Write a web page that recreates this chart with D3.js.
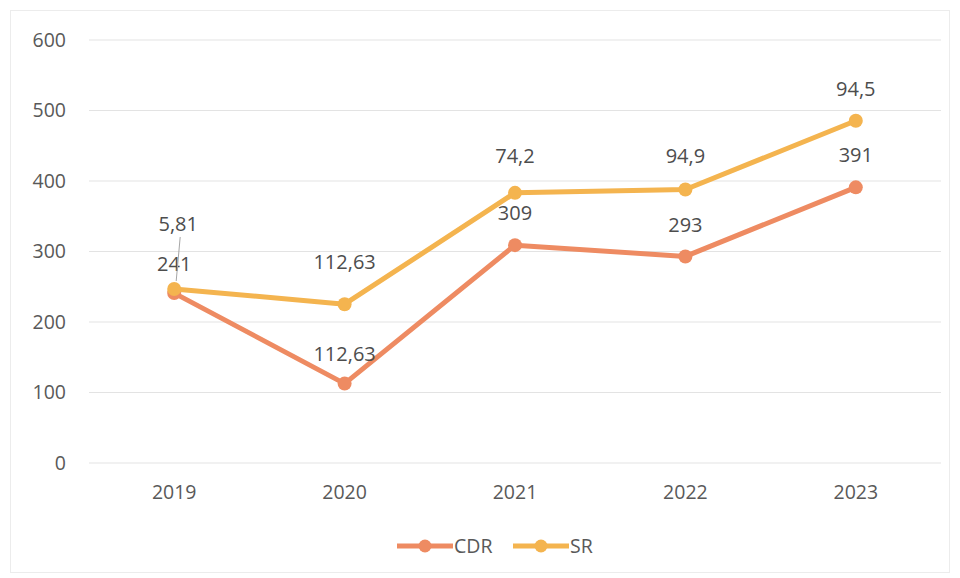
<!DOCTYPE html>
<html><head><meta charset="utf-8">
<script src="https://cdn.jsdelivr.net/npm/d3@7"></script>
<style>
body{margin:0;background:#fff;}
svg{display:block;font-family:"Open Sans","Noto Sans",sans-serif;}
</style></head>
<body><svg id="c" width="960" height="578"></svg>
<script>
const years = ["2019","2020","2021","2022","2023"];
const cdr = [241, 112.63, 309, 293, 391];
const srIncrement = [5.81, 112.63, 74.2, 94.9, 94.5];
const cdrLabels = ["241","112,63","309","293","391"];
const srLabels = ["5,81","112,63","74,2","94,9","94,5"];
const yTicks = [0,100,200,300,400,500,600];
const seriesNames = ["CDR","SR"];

const svg = d3.select("#c");
const colors = {CDR:"#ee8b62", SR:"#f4b44f"};
svg.append("rect").attr("x",10.5).attr("y",10.5).attr("width",939).attr("height",562)
  .attr("fill","#fff").attr("stroke","#ececec");

const x = d3.scaleBand().domain(years).range([89,941]);
const y = d3.scaleLinear().domain([0,600]).range([463,40]);
const srTotal = cdr.map((v,i)=>v+srIncrement[i]);

// grid
svg.append("g").selectAll("line").data(yTicks).join("line")
  .attr("x1",89).attr("x2",941).attr("y1",d=>y(d)).attr("y2",d=>y(d))
  .attr("stroke","#e3e3e3").attr("stroke-width",1);

// y axis labels
const yAxis = d3.axisLeft(y).tickValues(yTicks).tickSize(0).tickPadding(0);
const gy = svg.append("g").attr("transform","translate(66,0)").call(yAxis);
gy.select(".domain").remove();
gy.selectAll("text").attr("font-size",19.5).attr("fill","#595959").attr("font-family","Open Sans");

const xAxis = d3.axisBottom(x).tickSize(0).tickPadding(0);
const gx = svg.append("g").attr("transform","translate(0,485)").call(xAxis);
gx.select(".domain").remove();
gx.selectAll("text").attr("font-size",19.5).attr("fill","#595959").attr("dy","0.71em").attr("font-family","Open Sans");

const cx = d=>x(d)+x.bandwidth()/2;
const line = d3.line().x(d=>cx(d[0])).y(d=>y(d[1]));

function drawSeries(vals,color){
  const pts = years.map((yr,i)=>[yr,vals[i]]);
  svg.append("path").attr("d",line(pts)).attr("fill","none").attr("stroke",color)
    .attr("stroke-width",5).attr("stroke-linejoin","round").attr("stroke-linecap","round");
  svg.append("g").selectAll("circle").data(pts).join("circle")
    .attr("cx",d=>cx(d[0])).attr("cy",d=>y(d[1])).attr("r",7).attr("fill",color);
}
drawSeries(cdr,colors.CDR);
drawSeries(srTotal,colors.SR);

// labels
const lab = svg.append("g").attr("font-size",20).attr("fill","#4d4d4d").attr("text-anchor","middle");
const cdrDy = [-29,-30,-32,-31,-32];
const srDy = [-65,-42,-37,-34,-32];
years.forEach((yr,i)=>{
  lab.append("text").attr("x",cx(yr)).attr("y",y(cdr[i])+cdrDy[i]).attr("dy","0.35em").text(cdrLabels[i]);
  lab.append("text").attr("x",cx(yr)+ (i===0?4:0)).attr("y",y(srTotal[i])+srDy[i]).attr("dy","0.35em").text(srLabels[i]);
});
// leader line for first SR label
svg.append("line").attr("x1",cx(years[0])+6).attr("y1",y(srTotal[0])+srDy[0]+13)
  .attr("x2",cx(years[0])+2).attr("y2",y(srTotal[0])-8).attr("stroke","#a6a6a6").attr("stroke-width",1);

// legend
const lg = svg.append("g").attr("transform","translate(0,546)");
const legendX = [397,513];
seriesNames.forEach((n,i)=>{
  const x0 = legendX[i];
  lg.append("line").attr("x1",x0).attr("x2",x0+56).attr("y1",0).attr("y2",0)
    .attr("stroke",colors[n]).attr("stroke-width",5);
  lg.append("circle").attr("cx",x0+28).attr("cy",0).attr("r",6.5).attr("fill",colors[n]);
  lg.append("text").attr("x",x0+57).attr("y",0).attr("dy","0.35em").attr("font-size",19.5)
    .attr("fill","#595959").text(n);
});
</script></body></html>
